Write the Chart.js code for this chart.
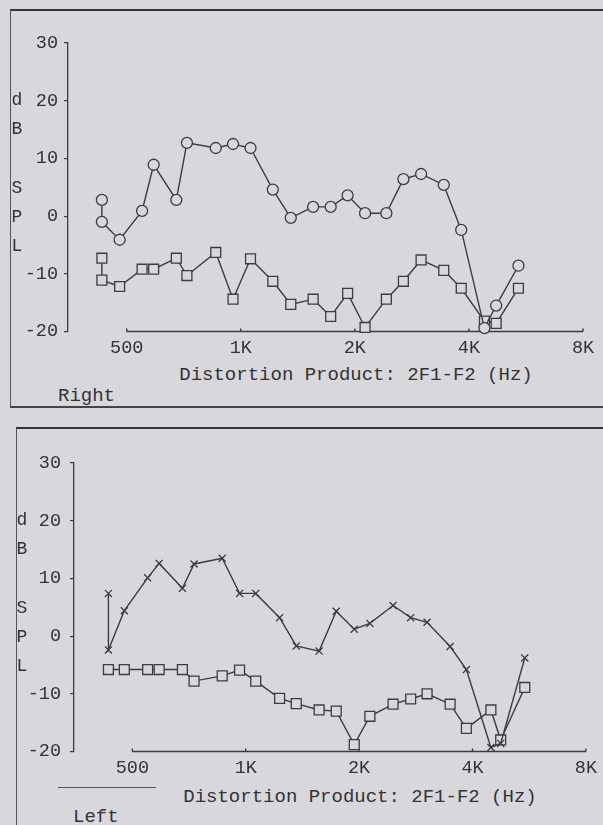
<!DOCTYPE html>
<html>
<head>
<meta charset="utf-8">
<script src="https://cdn.jsdelivr.net/npm/chart.js@4.4.0/dist/chart.umd.min.js"></script>
<style>
  body {
    margin: 0;
    width: 603px;
    height: 825px;
    overflow: hidden;
    position: relative;
    background: #d8d7dc;
    font-family: "Liberation Mono", monospace;
    color: #333;
  }
  .box { position: absolute; }
  #right-box { left: 10px; top: 9px; width: 620px; height: 395px; border-left: 1px solid #555; border-top: 2px solid #333; border-bottom: 2px solid #444; }
  #left-box { left: 16px; top: 427px; width: 620px; height: 420px; border-left: 1px solid #555; border-top: 2px solid #333; }
  canvas { position: absolute; left: 0; }
  .txt { position: absolute; white-space: pre; font-size: 19px; line-height: 19px; }
  .title { width: 420px; text-align: center; }
  .ylab { position: absolute; white-space: pre; font-size: 18px; line-height: 29.2px; width: 14px; text-align: center; }
  #left-rule { position: absolute; left: 58px; top: 787px; width: 98px; height: 0; border-top: 1px solid #555; }
</style>
</head>
<body>
<div class="box" id="right-box"></div>
<div class="box" id="left-box"></div>

<canvas id="right-chart" width="603" height="360" style="top:0px"></canvas>
<canvas id="left-chart" width="603" height="360" style="top:420px"></canvas>

<div class="ylab" style="left:10px; top:86px">d
B

S
P
L</div>
<div class="ylab" style="left:15px; top:506px">d
B

S
P
L</div>

<div class="txt title" style="left:146px; top:366px">Distortion Product: 2F1-F2 (Hz)</div>
<div class="txt" style="left:58px; top:387px">Right</div>

<div id="left-rule"></div>
<div class="txt title" style="left:150px; top:788px">Distortion Product: 2F1-F2 (Hz)</div>
<div class="txt" style="left:73px; top:808px">Left</div>

<script>
// x axis ticks
const xTicks = [500, 1000, 2000, 4000, 8000];
const xTickLabels = ["500", "1K", "2K", "4K", "8K"];

// Right ear: DP (circles) and noise floor (squares)
const rightFreqs = [430, 430, 479, 549, 589, 676, 721, 859, 954, 1061, 1215, 1355, 1552, 1727, 1914, 2128, 2422, 2686, 2991, 3433, 3817, 4395, 4720, 5404];
const rightDp = [2.8, -1.0, -4.1, 0.9, 8.9, 2.8, 12.7, 11.8, 12.5, 11.8, 4.6, -0.3, 1.6, 1.6, 3.6, 0.5, 0.5, 6.4, 7.3, 5.4, -2.4, -19.4, -15.5, -8.6];
const rightNoise = [-7.3, -11.1, -12.2, -9.2, -9.2, -7.3, -10.3, -6.3, -14.4, -7.4, -11.3, -15.3, -14.4, -17.4, -13.4, -19.3, -14.4, -11.3, -7.6, -9.4, -12.5, -18.2, -18.6, -12.5];

// Left ear: DP (crosses) and noise floor (squares)
const leftDpFreqs = [432, 432, 476, 549, 589, 679, 729, 866, 963, 1063, 1230, 1362, 1566, 1739, 1941, 2136, 2461, 2741, 3030, 3489, 3853, 4476, 4752, 5506];
const leftDp = [7.4, -2.4, 4.4, 10.1, 12.6, 8.3, 12.5, 13.5, 7.4, 7.4, 3.2, -1.7, -2.6, 4.3, 1.2, 2.2, 5.3, 3.2, 2.4, -1.8, -5.8, -19.3, -18.6, -3.8];
const leftNoiseFreqs = [432, 476, 549, 589, 679, 729, 866, 963, 1063, 1230, 1362, 1566, 1739, 1941, 2136, 2461, 2741, 3030, 3489, 3853, 4476, 4752, 5506];
const leftNoise = [-5.8, -5.8, -5.8, -5.8, -5.8, -7.8, -6.9, -5.9, -7.8, -10.8, -11.7, -12.8, -13.0, -18.8, -13.9, -11.8, -10.9, -10.0, -11.8, -16.0, -12.8, -18.0, -8.9];

const ink = "#3c3c3c";
const paper = "#d8d7dc";
const monoFont = { family: "Liberation Mono", size: 18.5 };

function toPoints(xs, ys) {
  return xs.map((x, i) => ({ x: x, y: ys[i] }));
}

function series(xs, ys, style, radius) {
  return {
    data: toPoints(xs, ys),
    showLine: true,
    borderColor: ink,
    borderWidth: 1.4,
    tension: 0,
    pointStyle: style,
    pointRadius: radius,
    pointBackgroundColor: paper,
    pointBorderColor: ink,
    pointBorderWidth: 1.3,
    clip: false,
  };
}

// x axis line only runs from 500 to 8K, with small ticks
const xAxisLine = {
  id: "xAxisLine",
  beforeDatasetsDraw(chart) {
    const x = chart.scales.x;
    const y = chart.chartArea.bottom;
    const ctx = chart.ctx;
    ctx.save();
    ctx.strokeStyle = ink;
    ctx.lineWidth = 1.4;
    ctx.beginPath();
    ctx.moveTo(x.getPixelForValue(xTicks[0]), y);
    ctx.lineTo(x.getPixelForValue(xTicks[xTicks.length - 1]), y);
    xTicks.forEach((v) => {
      const px = x.getPixelForValue(v);
      ctx.moveTo(px, y);
      ctx.lineTo(px, y - 3);
    });
    ctx.stroke();
    ctx.restore();
  },
};

function makeChart(id, datasets, yWidth, padRight, labelPad) {
  new Chart(document.getElementById(id), {
    type: "scatter",
    data: { datasets: datasets },
    options: {
      responsive: false,
      animation: false,
      layout: { padding: { top: 43, right: padRight, left: 0, bottom: 0 } },
      plugins: { legend: { display: false }, tooltip: { enabled: false } },
      scales: {
        x: {
          type: "logarithmic",
          min: 350,
          max: 8000,
          afterFit: (s) => { s.height = 28.5; },
          afterBuildTicks: (s) => { s.ticks = xTicks.map((v) => ({ value: v })); },
          grid: { display: false, drawTicks: false },
          border: { display: false },
          ticks: {
            color: "#333",
            font: monoFont,
            padding: 6,
            maxRotation: 0,
            autoSkip: false,
            callback: (v) => xTickLabels[xTicks.indexOf(v)],
          },
        },
        y: {
          min: -20,
          max: 30,
          afterFit: (s) => { s.width = yWidth; },
          grid: { drawOnChartArea: false, drawTicks: true, tickLength: 4, color: ink, lineWidth: 1.2 },
          border: { display: true, color: ink, width: 1.3 },
          ticks: { stepSize: 10, color: "#333", font: monoFont, padding: labelPad },
        },
      },
    },
    plugins: [xAxisLine],
  });
}

makeChart("right-chart", [
  series(rightFreqs, rightDp, "circle", 5.5),
  series(rightFreqs, rightNoise, "rect", 7),
], 68, 20, 6);

makeChart("left-chart", [
  series(leftDpFreqs, leftDp, "crossRot", 5),
  series(leftNoiseFreqs, leftNoise, "rect", 7),
], 74, 14, 9);
</script>
</body>
</html>
